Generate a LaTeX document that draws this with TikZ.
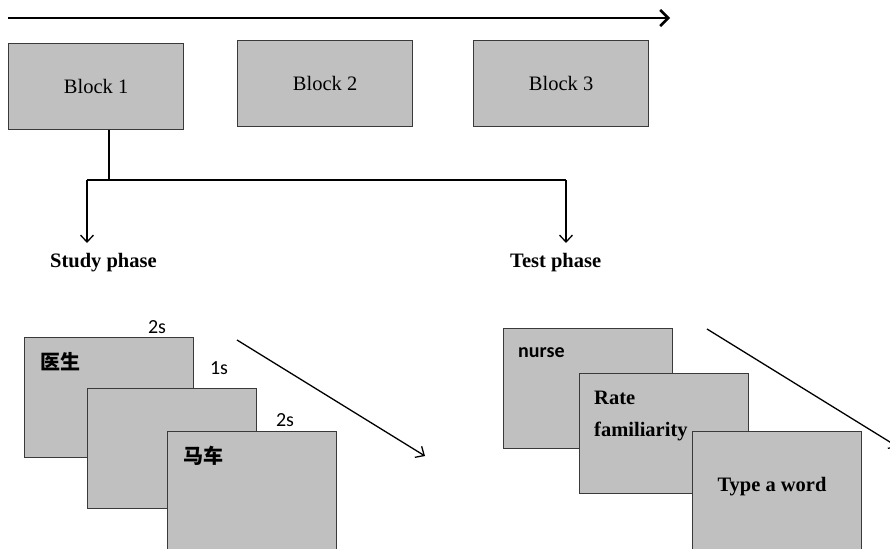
\documentclass[tikz,border=0pt]{standalone}
\usepackage{fontspec}
\setmainfont{Liberation Serif}
\newfontfamily\carlitofont{Carlito}
\newfontfamily\cjkfont{Noto Sans CJK SC}
\usetikzlibrary{arrows.meta}
\definecolor{boxgray}{HTML}{C0C0C0}
\definecolor{edgegray}{HTML}{3A3A3A}
\tikzset{
  blockbox/.style={draw=edgegray, line width=1.2pt, fill=boxgray, minimum width=175pt, minimum height=86pt, anchor=north west, inner sep=0pt, font=\fontsize{20.5}{24}\selectfont},
  framebox/.style={draw=edgegray, line width=1pt, fill=boxgray, minimum width=169pt, minimum height=120pt, anchor=north west, inner sep=0pt},
  conn/.style={line width=1.3pt, black},
  tip/.style={-{Straight Barb[length=7pt,width=13pt,line width=1.3pt]}},
  lbl/.style={font=\fontsize{20.5}{24}\selectfont\bfseries, inner sep=0pt},
  sans/.style={font=\fontsize{20}{24}\selectfont\carlitofont, inner sep=0pt},
}
\begin{document}
\begin{tikzpicture}[x=1pt,y=-1pt]
\useasboundingbox (0,0) rectangle (890,548);
\clip (0,0) rectangle (890,548);
% time arrow
\coordinate (ts) at (8,18);
\coordinate (te) at (670,18);
\draw[line width=2.8pt, -{Straight Barb[length=8pt,width=16pt,line width=2.5pt]}] (ts) -- (te);
% blocks
\node[blockbox] (b1) at (8,43) {Block 1};
\node[blockbox] (b2) at (237,40) {Block 2};
\node[blockbox] (b3) at (473,40) {Block 3};
% branch
\coordinate (j) at (109,180);
\coordinate (jl) at (87,180);
\coordinate (jr) at (566,180);
\node[lbl, anchor=west] (study) at (50,263) {Study phase};
\node[lbl, anchor=west] (test) at (510,263) {Test phase};
\draw[conn] (b1.south -| j) -- (j);
\draw[conn] (jl) -- (jr);
\draw[conn, tip] (jl) -- (jl |- 0,243);
\draw[conn, tip] (jr) -- (jr |- 0,243);
% study frames
\node[framebox] (s1) at (24,337) {};
\node[framebox] (s2) at (87,388) {};
\node[framebox, minimum height=140pt] (s3) at (167,431) {};
\node[font=\fontsize{20}{24}\selectfont\cjkfont\bfseries, inner sep=0pt, anchor=west] (w1) at (40,362) {医生};
\node[font=\fontsize{20}{24}\selectfont\cjkfont\bfseries, inner sep=0pt, anchor=west] (w2) at (183,456) {马车};
\node[sans] (t1) at (157,327) {2s};
\node[sans] (t2) at (219,368) {1s};
\node[sans] (t3) at (285,420) {2s};
\coordinate (sa) at (237,340);
\coordinate (sb) at (425,456);
\draw[conn, tip] (sa) -- (sb);
% test frames
\node[framebox] (f1) at (503,328) {};
\node[framebox] (f2) at (579,373) {};
\node[framebox, minimum height=140pt] (f3) at (692,431) {};
\node[sans, font=\fontsize{20}{24}\selectfont\carlitofont\bfseries, anchor=west] (n1) at (518,353) {nurse};
\node[lbl, anchor=west] (n2) at (594,398) {Rate};
\node[lbl, anchor=west] (n3) at (594,431) {familiarity};
\node[lbl] (n4) at (772,487) {Type a word};
\coordinate (ta) at (707,329);
\coordinate (tb) at (898,447);
\draw[conn, tip] (ta) -- (tb);
\end{tikzpicture}
\end{document}
